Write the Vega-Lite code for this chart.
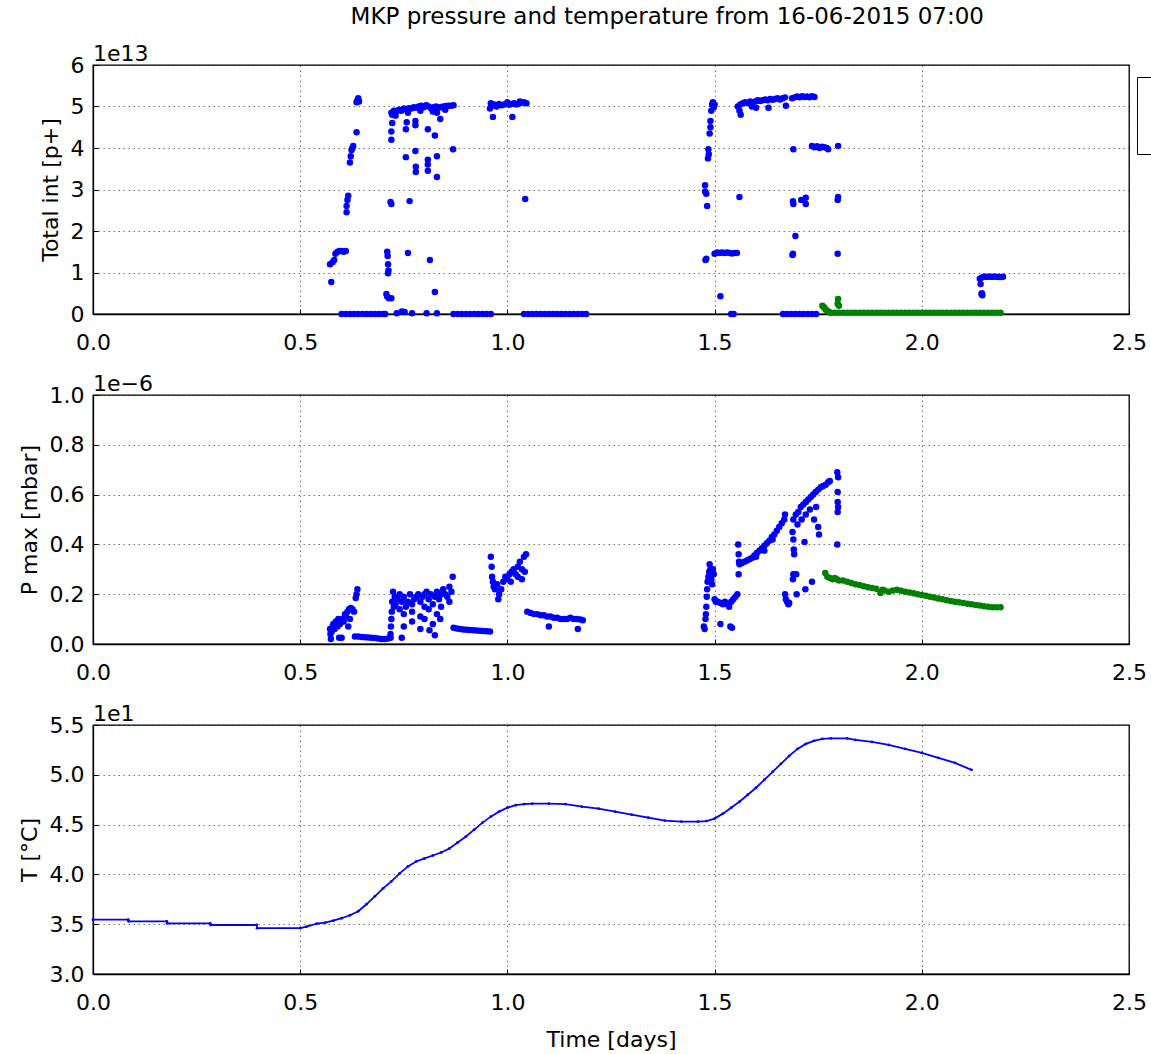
{
"$schema": "https://vega.github.io/schema/vega-lite/v6.json",
"padding": {"left": 17, "top": 6, "right": -10, "bottom": 0},
"title": {"text": "MKP pressure and temperature from 16-06-2015 07:00", "anchor": "middle", "fontSize": 23, "fontWeight": "normal", "font": "DejaVu Sans", "color": "#000", "offset": 13, "dx": 41},
"config": {
  "font": "DejaVu Sans",
  "view": {"stroke": "#000", "strokeWidth": 1.3},
  "axis": {"labelFont": "DejaVu Sans", "labelFontSize": 22, "labelColor": "#000", "labelFlush": false, "titleFont": "DejaVu Sans", "titleFontSize": 22, "titleFontWeight": "normal", "titleColor": "#000", "domainColor": "#000", "domainWidth": 1.3, "tickColor": "#000", "tickSize": -5, "gridColor": "#000", "gridOpacity": 0.55, "gridDash": [1.5, 3.5], "gridWidth": 1},
  "axisX": {"labelPadding": 23, "titlePadding": 16},
  "axisY": {"labelPadding": 14, "titlePadding": 8},
  "title": {"font": "DejaVu Sans", "fontWeight": "normal", "fontSize": 22, "color": "#000"}
},
"datasets": {
"tot": [
{"t":0.575,"v":0.77e13,"s":"s1"},{"t":0.572,"v":1.2e13,"s":"s1"},{"t":0.578,"v":1.25e13,"s":"s1"},{"t":0.582,"v":1.3e13,"s":"s1"},{"t":0.585,"v":1.45e13,"s":"s1"},{"t":0.59,"v":1.5e13,"s":"s1"},{"t":0.595,"v":1.52e13,"s":"s1"},{"t":0.6,"v":1.52e13,"s":"s1"},{"t":0.605,"v":1.5e13,"s":"s1"},{"t":0.61,"v":1.52e13,"s":"s1"},{"t":0.612,"v":2.45e13,"s":"s1"},{"t":0.612,"v":2.6e13,"s":"s1"},{"t":0.614,"v":2.75e13,"s":"s1"},{"t":0.616,"v":2.85e13,"s":"s1"},{"t":0.62,"v":3.65e13,"s":"s1"},{"t":0.622,"v":3.8e13,"s":"s1"},{"t":0.624,"v":3.95e13,"s":"s1"},{"t":0.626,"v":4.0e13,"s":"s1"},{"t":0.628,"v":4.05e13,"s":"s1"},{"t":0.636,"v":4.38e13,"s":"s1"},{"t":0.636,"v":5.1e13,"s":"s1"},{"t":0.638,"v":5.15e13,"s":"s1"},{"t":0.64,"v":5.2e13,"s":"s1"},{"t":0.642,"v":5.12e13,"s":"s1"},
{"t":0.6,"v":0,"s":"s1"},{"t":0.61,"v":0,"s":"s1"},{"t":0.62,"v":0,"s":"s1"},{"t":0.63,"v":0,"s":"s1"},{"t":0.64,"v":0,"s":"s1"},{"t":0.65,"v":0,"s":"s1"},{"t":0.66,"v":0,"s":"s1"},{"t":0.67,"v":0,"s":"s1"},{"t":0.68,"v":0,"s":"s1"},{"t":0.69,"v":0,"s":"s1"},{"t":0.7,"v":0,"s":"s1"},{"t":0.705,"v":0,"s":"s1"},
{"t":0.71,"v":1.5e13,"s":"s1"},{"t":0.711,"v":1.4e13,"s":"s1"},{"t":0.712,"v":1.2e13,"s":"s1"},{"t":0.713,"v":1.05e13,"s":"s1"},{"t":0.712,"v":0.98e13,"s":"s1"},{"t":0.708,"v":0.48e13,"s":"s1"},{"t":0.71,"v":0.42e13,"s":"s1"},{"t":0.714,"v":0.38e13,"s":"s1"},{"t":0.72,"v":0.38e13,"s":"s1"},{"t":0.718,"v":2.7e13,"s":"s1"},{"t":0.72,"v":2.65e13,"s":"s1"},{"t":0.72,"v":4.2e13,"s":"s1"},{"t":0.72,"v":4.4e13,"s":"s1"},{"t":0.722,"v":4.6e13,"s":"s1"},{"t":0.722,"v":4.8e13,"s":"s1"},{"t":0.725,"v":4.85e13,"s":"s1"},
{"t":0.72,"v":4.85e13,"s":"s1"},{"t":0.726,"v":4.9e13,"s":"s1"},{"t":0.732,"v":4.88e13,"s":"s1"},{"t":0.738,"v":4.92e13,"s":"s1"},{"t":0.744,"v":4.9e13,"s":"s1"},{"t":0.75,"v":4.95e13,"s":"s1"},{"t":0.756,"v":4.93e13,"s":"s1"},{"t":0.762,"v":4.96e13,"s":"s1"},{"t":0.768,"v":4.95e13,"s":"s1"},{"t":0.774,"v":4.98e13,"s":"s1"},{"t":0.78,"v":4.97e13,"s":"s1"},{"t":0.786,"v":5.0e13,"s":"s1"},{"t":0.792,"v":5.02e13,"s":"s1"},{"t":0.798,"v":4.98e13,"s":"s1"},{"t":0.804,"v":5.03e13,"s":"s1"},{"t":0.81,"v":5.0e13,"s":"s1"},{"t":0.816,"v":4.95e13,"s":"s1"},{"t":0.822,"v":4.98e13,"s":"s1"},{"t":0.828,"v":5.0e13,"s":"s1"},{"t":0.834,"v":4.97e13,"s":"s1"},{"t":0.84,"v":4.99e13,"s":"s1"},{"t":0.846,"v":5.0e13,"s":"s1"},{"t":0.852,"v":5.01e13,"s":"s1"},{"t":0.858,"v":5.02e13,"s":"s1"},{"t":0.864,"v":5.02e13,"s":"s1"},{"t":0.87,"v":5.03e13,"s":"s1"},
{"t":0.73,"v":4.78e13,"s":"s1"},{"t":0.76,"v":4.85e13,"s":"s1"},{"t":0.79,"v":4.9e13,"s":"s1"},{"t":0.82,"v":4.88e13,"s":"s1"},{"t":0.83,"v":4.85e13,"s":"s1"},{"t":0.85,"v":4.92e13,"s":"s1"},
{"t":0.755,"v":4.45e13,"s":"s1"},{"t":0.757,"v":4.62e13,"s":"s1"},{"t":0.778,"v":4.55e13,"s":"s1"},{"t":0.778,"v":4.65e13,"s":"s1"},{"t":0.778,"v":3.93e13,"s":"s1"},{"t":0.755,"v":3.78e13,"s":"s1"},{"t":0.779,"v":3.42e13,"s":"s1"},{"t":0.779,"v":3.55e13,"s":"s1"},{"t":0.808,"v":3.45e13,"s":"s1"},{"t":0.808,"v":3.6e13,"s":"s1"},{"t":0.808,"v":3.72e13,"s":"s1"},{"t":0.808,"v":4.45e13,"s":"s1"},{"t":0.825,"v":4.3e13,"s":"s1"},{"t":0.83,"v":3.8e13,"s":"s1"},{"t":0.83,"v":3.3e13,"s":"s1"},{"t":0.869,"v":3.97e13,"s":"s1"},{"t":0.764,"v":2.72e13,"s":"s1"},{"t":0.76,"v":1.47e13,"s":"s1"},{"t":0.813,"v":1.3e13,"s":"s1"},{"t":0.825,"v":0.53e13,"s":"s1"},{"t":0.838,"v":4.7e13,"s":"s1"},
{"t":0.733,"v":0.02e13,"s":"s1"},{"t":0.745,"v":0.06e13,"s":"s1"},{"t":0.752,"v":0.05e13,"s":"s1"},{"t":0.77,"v":0.02e13,"s":"s1"},{"t":0.805,"v":0.02e13,"s":"s1"},{"t":0.83,"v":0.02e13,"s":"s1"},
{"t":0.87,"v":0,"s":"s1"},{"t":0.88,"v":0,"s":"s1"},{"t":0.89,"v":0,"s":"s1"},{"t":0.9,"v":0,"s":"s1"},{"t":0.91,"v":0,"s":"s1"},{"t":0.92,"v":0,"s":"s1"},{"t":0.93,"v":0,"s":"s1"},{"t":0.94,"v":0,"s":"s1"},{"t":0.95,"v":0,"s":"s1"},{"t":0.96,"v":0,"s":"s1"},
{"t":0.958,"v":4.95e13,"s":"s1"},{"t":0.962,"v":5.02e13,"s":"s1"},{"t":0.968,"v":5.05e13,"s":"s1"},{"t":0.974,"v":5.0e13,"s":"s1"},{"t":0.98,"v":5.06e13,"s":"s1"},{"t":0.986,"v":5.03e13,"s":"s1"},{"t":0.992,"v":5.05e13,"s":"s1"},{"t":0.998,"v":5.07e13,"s":"s1"},{"t":1.004,"v":5.04e13,"s":"s1"},{"t":1.01,"v":5.06e13,"s":"s1"},{"t":1.016,"v":5.08e13,"s":"s1"},{"t":1.022,"v":5.05e13,"s":"s1"},{"t":1.028,"v":5.07e13,"s":"s1"},{"t":1.034,"v":5.09e13,"s":"s1"},{"t":1.04,"v":5.1e13,"s":"s1"},{"t":1.046,"v":5.08e13,"s":"s1"},{"t":0.96,"v":5.08e13,"s":"s1"},{"t":1.0,"v":5.1e13,"s":"s1"},{"t":1.03,"v":5.12e13,"s":"s1"},{"t":0.965,"v":4.75e13,"s":"s1"},{"t":1.012,"v":4.75e13,"s":"s1"},{"t":1.043,"v":2.77e13,"s":"s1"},
{"t":1.04,"v":0,"s":"s1"},{"t":1.05,"v":0,"s":"s1"},{"t":1.06,"v":0,"s":"s1"},{"t":1.07,"v":0,"s":"s1"},{"t":1.08,"v":0,"s":"s1"},{"t":1.09,"v":0,"s":"s1"},{"t":1.1,"v":0,"s":"s1"},{"t":1.11,"v":0,"s":"s1"},{"t":1.12,"v":0,"s":"s1"},{"t":1.13,"v":0,"s":"s1"},{"t":1.14,"v":0,"s":"s1"},{"t":1.15,"v":0,"s":"s1"},{"t":1.16,"v":0,"s":"s1"},{"t":1.17,"v":0,"s":"s1"},{"t":1.18,"v":0,"s":"s1"},{"t":1.19,"v":0,"s":"s1"},
{"t":1.477,"v":3.1e13,"s":"s1"},{"t":1.477,"v":2.95e13,"s":"s1"},{"t":1.48,"v":2.9e13,"s":"s1"},{"t":1.482,"v":2.6e13,"s":"s1"},{"t":1.48,"v":1.33e13,"s":"s1"},{"t":1.478,"v":1.3e13,"s":"s1"},{"t":1.484,"v":3.75e13,"s":"s1"},{"t":1.485,"v":3.97e13,"s":"s1"},{"t":1.486,"v":3.85e13,"s":"s1"},{"t":1.488,"v":4.35e13,"s":"s1"},{"t":1.49,"v":4.5e13,"s":"s1"},{"t":1.49,"v":4.65e13,"s":"s1"},{"t":1.492,"v":4.9e13,"s":"s1"},{"t":1.494,"v":5.05e13,"s":"s1"},{"t":1.496,"v":5.1e13,"s":"s1"},{"t":1.5,"v":5.05e13,"s":"s1"},{"t":1.498,"v":4.98e13,"s":"s1"},
{"t":1.5,"v":1.45e13,"s":"s1"},{"t":1.506,"v":1.48e13,"s":"s1"},{"t":1.512,"v":1.47e13,"s":"s1"},{"t":1.518,"v":1.48e13,"s":"s1"},{"t":1.524,"v":1.47e13,"s":"s1"},{"t":1.53,"v":1.48e13,"s":"s1"},{"t":1.536,"v":1.47e13,"s":"s1"},{"t":1.542,"v":1.46e13,"s":"s1"},{"t":1.548,"v":1.47e13,"s":"s1"},{"t":1.554,"v":1.47e13,"s":"s1"},{"t":1.514,"v":0.43e13,"s":"s1"},{"t":1.54,"v":0,"s":"s1"},{"t":1.546,"v":0,"s":"s1"},
{"t":1.556,"v":5.0e13,"s":"s1"},{"t":1.562,"v":5.05e13,"s":"s1"},{"t":1.568,"v":5.08e13,"s":"s1"},{"t":1.574,"v":5.1e13,"s":"s1"},{"t":1.58,"v":5.08e13,"s":"s1"},{"t":1.586,"v":5.12e13,"s":"s1"},{"t":1.592,"v":5.1e13,"s":"s1"},{"t":1.598,"v":5.12e13,"s":"s1"},{"t":1.604,"v":5.15e13,"s":"s1"},{"t":1.61,"v":5.13e13,"s":"s1"},{"t":1.616,"v":5.15e13,"s":"s1"},{"t":1.622,"v":5.17e13,"s":"s1"},{"t":1.628,"v":5.15e13,"s":"s1"},{"t":1.634,"v":5.18e13,"s":"s1"},{"t":1.64,"v":5.16e13,"s":"s1"},{"t":1.646,"v":5.18e13,"s":"s1"},{"t":1.652,"v":5.2e13,"s":"s1"},{"t":1.658,"v":5.17e13,"s":"s1"},{"t":1.664,"v":5.2e13,"s":"s1"},{"t":1.67,"v":5.22e13,"s":"s1"},{"t":1.56,"v":4.9e13,"s":"s1"},{"t":1.563,"v":4.8e13,"s":"s1"},{"t":1.59,"v":5.0e13,"s":"s1"},{"t":1.6,"v":4.97e13,"s":"s1"},{"t":1.63,"v":4.97e13,"s":"s1"},{"t":1.672,"v":5.02e13,"s":"s1"},{"t":1.56,"v":2.82e13,"s":"s1"},
{"t":1.687,"v":5.2e13,"s":"s1"},{"t":1.693,"v":5.22e13,"s":"s1"},{"t":1.699,"v":5.24e13,"s":"s1"},{"t":1.705,"v":5.22e13,"s":"s1"},{"t":1.711,"v":5.25e13,"s":"s1"},{"t":1.717,"v":5.23e13,"s":"s1"},{"t":1.723,"v":5.24e13,"s":"s1"},{"t":1.729,"v":5.22e13,"s":"s1"},{"t":1.735,"v":5.25e13,"s":"s1"},{"t":1.741,"v":5.23e13,"s":"s1"},
{"t":1.69,"v":3.97e13,"s":"s1"},{"t":1.689,"v":2.72e13,"s":"s1"},{"t":1.69,"v":2.65e13,"s":"s1"},{"t":1.689,"v":1.45e13,"s":"s1"},{"t":1.688,"v":1.42e13,"s":"s1"},{"t":1.695,"v":1.88e13,"s":"s1"},{"t":1.709,"v":2.75e13,"s":"s1"},{"t":1.72,"v":2.8e13,"s":"s1"},{"t":1.72,"v":2.65e13,"s":"s1"},
{"t":1.735,"v":4.05e13,"s":"s1"},{"t":1.741,"v":4.02e13,"s":"s1"},{"t":1.747,"v":4.04e13,"s":"s1"},{"t":1.753,"v":4.0e13,"s":"s1"},{"t":1.759,"v":4.03e13,"s":"s1"},{"t":1.765,"v":4.02e13,"s":"s1"},{"t":1.771,"v":4.0e13,"s":"s1"},{"t":1.774,"v":3.97e13,"s":"s1"},
{"t":1.798,"v":4.05e13,"s":"s1"},{"t":1.798,"v":2.82e13,"s":"s1"},{"t":1.797,"v":2.75e13,"s":"s1"},{"t":1.797,"v":1.45e13,"s":"s1"},
{"t":1.665,"v":0,"s":"s1"},{"t":1.675,"v":0,"s":"s1"},{"t":1.685,"v":0,"s":"s1"},{"t":1.695,"v":0,"s":"s1"},{"t":1.705,"v":0,"s":"s1"},{"t":1.715,"v":0,"s":"s1"},{"t":1.725,"v":0,"s":"s1"},{"t":1.735,"v":0,"s":"s1"},{"t":1.745,"v":0,"s":"s1"},
{"t":2.14,"v":0.85e13,"s":"s1"},{"t":2.145,"v":0.88e13,"s":"s1"},{"t":2.15,"v":0.9e13,"s":"s1"},{"t":2.156,"v":0.9e13,"s":"s1"},{"t":2.162,"v":0.9e13,"s":"s1"},{"t":2.168,"v":0.9e13,"s":"s1"},{"t":2.174,"v":0.9e13,"s":"s1"},{"t":2.18,"v":0.9e13,"s":"s1"},{"t":2.186,"v":0.89e13,"s":"s1"},{"t":2.192,"v":0.89e13,"s":"s1"},{"t":2.196,"v":0.9e13,"s":"s1"},{"t":2.142,"v":0.72e13,"s":"s1"},{"t":2.144,"v":0.48e13,"s":"s1"},{"t":2.146,"v":0.45e13,"s":"s1"},{"t":2.145,"v":0.5e13,"s":"s1"},
{"t":1.76,"v":0.2e13,"s":"s2"},{"t":1.763,"v":0.17e13,"s":"s2"},{"t":1.765,"v":0.15e13,"s":"s2"},{"t":1.768,"v":0.1e13,"s":"s2"},{"t":1.772,"v":0.08e13,"s":"s2"},{"t":1.776,"v":0.05e13,"s":"s2"},{"t":1.798,"v":0.36e13,"s":"s2"},{"t":1.8,"v":0.2e13,"s":"s2"},{"t":1.797,"v":0.25e13,"s":"s2"},
{"t":1.78,"v":0.03e13,"s":"s2"},{"t":1.79,"v":0.03e13,"s":"s2"},{"t":1.8,"v":0.03e13,"s":"s2"},{"t":1.81,"v":0.03e13,"s":"s2"},{"t":1.82,"v":0.03e13,"s":"s2"},{"t":1.83,"v":0.03e13,"s":"s2"},{"t":1.84,"v":0.03e13,"s":"s2"},{"t":1.85,"v":0.03e13,"s":"s2"},{"t":1.86,"v":0.03e13,"s":"s2"},{"t":1.87,"v":0.03e13,"s":"s2"},{"t":1.88,"v":0.03e13,"s":"s2"},{"t":1.89,"v":0.03e13,"s":"s2"},{"t":1.9,"v":0.03e13,"s":"s2"},{"t":1.91,"v":0.03e13,"s":"s2"},{"t":1.92,"v":0.03e13,"s":"s2"},{"t":1.93,"v":0.03e13,"s":"s2"},{"t":1.94,"v":0.03e13,"s":"s2"},{"t":1.95,"v":0.03e13,"s":"s2"},{"t":1.96,"v":0.03e13,"s":"s2"},{"t":1.97,"v":0.03e13,"s":"s2"},{"t":1.98,"v":0.03e13,"s":"s2"},{"t":1.99,"v":0.03e13,"s":"s2"},{"t":2.0,"v":0.03e13,"s":"s2"},{"t":2.01,"v":0.03e13,"s":"s2"},{"t":2.02,"v":0.03e13,"s":"s2"},{"t":2.03,"v":0.03e13,"s":"s2"},{"t":2.04,"v":0.03e13,"s":"s2"},{"t":2.05,"v":0.03e13,"s":"s2"},{"t":2.06,"v":0.03e13,"s":"s2"},{"t":2.07,"v":0.03e13,"s":"s2"},{"t":2.08,"v":0.03e13,"s":"s2"},{"t":2.09,"v":0.03e13,"s":"s2"},{"t":2.1,"v":0.03e13,"s":"s2"},{"t":2.11,"v":0.03e13,"s":"s2"},{"t":2.12,"v":0.03e13,"s":"s2"},{"t":2.13,"v":0.03e13,"s":"s2"},{"t":2.14,"v":0.03e13,"s":"s2"},{"t":2.15,"v":0.03e13,"s":"s2"},{"t":2.16,"v":0.03e13,"s":"s2"},{"t":2.17,"v":0.03e13,"s":"s2"},{"t":2.18,"v":0.03e13,"s":"s2"},{"t":2.19,"v":0.03e13,"s":"s2"}
],
"pmax": [
{"t":0.572,"p":0.06e-6,"s":"s1"},{"t":0.573,"p":0.04e-6,"s":"s1"},{"t":0.574,"p":0.02e-6,"s":"s1"},{"t":0.576,"p":0.05e-6,"s":"s1"},{"t":0.578,"p":0.07e-6,"s":"s1"},{"t":0.58,"p":0.08e-6,"s":"s1"},{"t":0.583,"p":0.06e-6,"s":"s1"},{"t":0.586,"p":0.09e-6,"s":"s1"},{"t":0.59,"p":0.07e-6,"s":"s1"},{"t":0.592,"p":0.1e-6,"s":"s1"},{"t":0.596,"p":0.08e-6,"s":"s1"},{"t":0.6,"p":0.025e-6,"s":"s1"},{"t":0.602,"p":0.1e-6,"s":"s1"},{"t":0.605,"p":0.09e-6,"s":"s1"},{"t":0.608,"p":0.12e-6,"s":"s1"},{"t":0.61,"p":0.11e-6,"s":"s1"},{"t":0.614,"p":0.13e-6,"s":"s1"},{"t":0.618,"p":0.14e-6,"s":"s1"},{"t":0.622,"p":0.145e-6,"s":"s1"},{"t":0.626,"p":0.14e-6,"s":"s1"},{"t":0.63,"p":0.13e-6,"s":"s1"},{"t":0.634,"p":0.185e-6,"s":"s1"},{"t":0.636,"p":0.2e-6,"s":"s1"},{"t":0.638,"p":0.22e-6,"s":"s1"},{"t":0.594,"p":0.025e-6,"s":"s1"},{"t":0.616,"p":0.07e-6,"s":"s1"},{"t":0.62,"p":0.1e-6,"s":"s1"},
{"t":0.632,"p":0.03e-6,"s":"s1"},{"t":0.64,"p":0.03e-6,"s":"s1"},{"t":0.648,"p":0.028e-6,"s":"s1"},{"t":0.656,"p":0.027e-6,"s":"s1"},{"t":0.664,"p":0.026e-6,"s":"s1"},{"t":0.672,"p":0.025e-6,"s":"s1"},{"t":0.68,"p":0.024e-6,"s":"s1"},{"t":0.688,"p":0.022e-6,"s":"s1"},{"t":0.696,"p":0.02e-6,"s":"s1"},{"t":0.704,"p":0.02e-6,"s":"s1"},{"t":0.712,"p":0.022e-6,"s":"s1"},{"t":0.718,"p":0.025e-6,"s":"s1"},
{"t":0.718,"p":0.04e-6,"s":"s1"},{"t":0.719,"p":0.07e-6,"s":"s1"},{"t":0.72,"p":0.1e-6,"s":"s1"},{"t":0.721,"p":0.13e-6,"s":"s1"},{"t":0.722,"p":0.17e-6,"s":"s1"},{"t":0.724,"p":0.21e-6,"s":"s1"},{"t":0.726,"p":0.15e-6,"s":"s1"},{"t":0.728,"p":0.19e-6,"s":"s1"},
{"t":0.73,"p":0.16e-6,"s":"s1"},{"t":0.735,"p":0.18e-6,"s":"s1"},{"t":0.74,"p":0.14e-6,"s":"s1"},{"t":0.745,"p":0.17e-6,"s":"s1"},{"t":0.75,"p":0.19e-6,"s":"s1"},{"t":0.755,"p":0.15e-6,"s":"s1"},{"t":0.76,"p":0.17e-6,"s":"s1"},{"t":0.765,"p":0.2e-6,"s":"s1"},{"t":0.77,"p":0.16e-6,"s":"s1"},{"t":0.775,"p":0.18e-6,"s":"s1"},{"t":0.78,"p":0.19e-6,"s":"s1"},{"t":0.785,"p":0.2e-6,"s":"s1"},{"t":0.79,"p":0.17e-6,"s":"s1"},{"t":0.795,"p":0.19e-6,"s":"s1"},{"t":0.8,"p":0.2e-6,"s":"s1"},{"t":0.805,"p":0.21e-6,"s":"s1"},{"t":0.81,"p":0.18e-6,"s":"s1"},{"t":0.815,"p":0.2e-6,"s":"s1"},{"t":0.82,"p":0.16e-6,"s":"s1"},{"t":0.825,"p":0.19e-6,"s":"s1"},{"t":0.83,"p":0.21e-6,"s":"s1"},{"t":0.835,"p":0.18e-6,"s":"s1"},{"t":0.84,"p":0.2e-6,"s":"s1"},{"t":0.845,"p":0.22e-6,"s":"s1"},{"t":0.85,"p":0.2e-6,"s":"s1"},{"t":0.855,"p":0.19e-6,"s":"s1"},{"t":0.86,"p":0.23e-6,"s":"s1"},{"t":0.865,"p":0.21e-6,"s":"s1"},{"t":0.868,"p":0.27e-6,"s":"s1"},{"t":0.75,"p":0.12e-6,"s":"s1"},{"t":0.77,"p":0.13e-6,"s":"s1"},{"t":0.79,"p":0.11e-6,"s":"s1"},{"t":0.81,"p":0.14e-6,"s":"s1"},{"t":0.83,"p":0.12e-6,"s":"s1"},{"t":0.84,"p":0.15e-6,"s":"s1"},{"t":0.86,"p":0.17e-6,"s":"s1"},{"t":0.74,"p":0.2e-6,"s":"s1"},{"t":0.8,"p":0.15e-6,"s":"s1"},
{"t":0.745,"p":0.025e-6,"s":"s1"},{"t":0.75,"p":0.07e-6,"s":"s1"},{"t":0.77,"p":0.09e-6,"s":"s1"},{"t":0.79,"p":0.06e-6,"s":"s1"},{"t":0.8,"p":0.1e-6,"s":"s1"},{"t":0.812,"p":0.055e-6,"s":"s1"},{"t":0.82,"p":0.08e-6,"s":"s1"},{"t":0.825,"p":0.035e-6,"s":"s1"},{"t":0.838,"p":0.1e-6,"s":"s1"},
{"t":0.87,"p":0.065e-6,"s":"s1"},{"t":0.878,"p":0.062e-6,"s":"s1"},{"t":0.886,"p":0.06e-6,"s":"s1"},{"t":0.894,"p":0.058e-6,"s":"s1"},{"t":0.902,"p":0.057e-6,"s":"s1"},{"t":0.91,"p":0.056e-6,"s":"s1"},{"t":0.918,"p":0.055e-6,"s":"s1"},{"t":0.926,"p":0.054e-6,"s":"s1"},{"t":0.934,"p":0.053e-6,"s":"s1"},{"t":0.942,"p":0.052e-6,"s":"s1"},{"t":0.95,"p":0.051e-6,"s":"s1"},{"t":0.958,"p":0.05e-6,"s":"s1"},
{"t":0.96,"p":0.35e-6,"s":"s1"},{"t":0.962,"p":0.31e-6,"s":"s1"},{"t":0.963,"p":0.27e-6,"s":"s1"},{"t":0.965,"p":0.25e-6,"s":"s1"},{"t":0.967,"p":0.23e-6,"s":"s1"},{"t":0.97,"p":0.22e-6,"s":"s1"},{"t":0.975,"p":0.24e-6,"s":"s1"},{"t":0.978,"p":0.18e-6,"s":"s1"},{"t":0.98,"p":0.2e-6,"s":"s1"},{"t":0.985,"p":0.22e-6,"s":"s1"},{"t":0.99,"p":0.25e-6,"s":"s1"},{"t":0.995,"p":0.27e-6,"s":"s1"},{"t":1.0,"p":0.26e-6,"s":"s1"},{"t":1.005,"p":0.28e-6,"s":"s1"},{"t":1.008,"p":0.25e-6,"s":"s1"},{"t":1.01,"p":0.29e-6,"s":"s1"},{"t":1.015,"p":0.3e-6,"s":"s1"},{"t":1.02,"p":0.28e-6,"s":"s1"},{"t":1.025,"p":0.31e-6,"s":"s1"},{"t":1.03,"p":0.33e-6,"s":"s1"},{"t":1.035,"p":0.3e-6,"s":"s1"},{"t":1.04,"p":0.35e-6,"s":"s1"},{"t":1.045,"p":0.36e-6,"s":"s1"},{"t":1.042,"p":0.29e-6,"s":"s1"},{"t":1.025,"p":0.27e-6,"s":"s1"},{"t":1.035,"p":0.26e-6,"s":"s1"},
{"t":1.048,"p":0.13e-6,"s":"s1"},{"t":1.056,"p":0.125e-6,"s":"s1"},{"t":1.064,"p":0.12e-6,"s":"s1"},{"t":1.072,"p":0.12e-6,"s":"s1"},{"t":1.08,"p":0.115e-6,"s":"s1"},{"t":1.088,"p":0.115e-6,"s":"s1"},{"t":1.096,"p":0.11e-6,"s":"s1"},{"t":1.104,"p":0.11e-6,"s":"s1"},{"t":1.112,"p":0.105e-6,"s":"s1"},{"t":1.12,"p":0.105e-6,"s":"s1"},{"t":1.128,"p":0.1e-6,"s":"s1"},{"t":1.136,"p":0.1e-6,"s":"s1"},{"t":1.144,"p":0.1e-6,"s":"s1"},{"t":1.152,"p":0.105e-6,"s":"s1"},{"t":1.16,"p":0.1e-6,"s":"s1"},{"t":1.168,"p":0.1e-6,"s":"s1"},{"t":1.176,"p":0.098e-6,"s":"s1"},{"t":1.182,"p":0.095e-6,"s":"s1"},{"t":1.1,"p":0.07e-6,"s":"s1"},{"t":1.17,"p":0.06e-6,"s":"s1"},
{"t":1.474,"p":0.07e-6,"s":"s1"},{"t":1.476,"p":0.06e-6,"s":"s1"},{"t":1.478,"p":0.1e-6,"s":"s1"},{"t":1.479,"p":0.12e-6,"s":"s1"},{"t":1.48,"p":0.15e-6,"s":"s1"},{"t":1.481,"p":0.19e-6,"s":"s1"},{"t":1.482,"p":0.22e-6,"s":"s1"},{"t":1.483,"p":0.25e-6,"s":"s1"},{"t":1.485,"p":0.27e-6,"s":"s1"},{"t":1.487,"p":0.29e-6,"s":"s1"},{"t":1.488,"p":0.32e-6,"s":"s1"},{"t":1.49,"p":0.3e-6,"s":"s1"},{"t":1.492,"p":0.26e-6,"s":"s1"},{"t":1.494,"p":0.24e-6,"s":"s1"},{"t":1.496,"p":0.3e-6,"s":"s1"},{"t":1.498,"p":0.28e-6,"s":"s1"},{"t":1.5,"p":0.18e-6,"s":"s1"},{"t":1.503,"p":0.17e-6,"s":"s1"},{"t":1.508,"p":0.17e-6,"s":"s1"},{"t":1.514,"p":0.165e-6,"s":"s1"},{"t":1.52,"p":0.16e-6,"s":"s1"},{"t":1.525,"p":0.17e-6,"s":"s1"},{"t":1.53,"p":0.16e-6,"s":"s1"},{"t":1.535,"p":0.15e-6,"s":"s1"},{"t":1.54,"p":0.17e-6,"s":"s1"},{"t":1.545,"p":0.18e-6,"s":"s1"},{"t":1.55,"p":0.19e-6,"s":"s1"},{"t":1.555,"p":0.2e-6,"s":"s1"},{"t":1.514,"p":0.08e-6,"s":"s1"},{"t":1.538,"p":0.07e-6,"s":"s1"},{"t":1.542,"p":0.065e-6,"s":"s1"},
{"t":1.557,"p":0.4e-6,"s":"s1"},{"t":1.558,"p":0.36e-6,"s":"s1"},{"t":1.559,"p":0.33e-6,"s":"s1"},{"t":1.558,"p":0.28e-6,"s":"s1"},{"t":1.56,"p":0.32e-6,"s":"s1"},{"t":1.566,"p":0.325e-6,"s":"s1"},{"t":1.572,"p":0.33e-6,"s":"s1"},{"t":1.578,"p":0.335e-6,"s":"s1"},{"t":1.584,"p":0.34e-6,"s":"s1"},{"t":1.59,"p":0.345e-6,"s":"s1"},{"t":1.596,"p":0.355e-6,"s":"s1"},{"t":1.602,"p":0.365e-6,"s":"s1"},{"t":1.608,"p":0.375e-6,"s":"s1"},{"t":1.614,"p":0.385e-6,"s":"s1"},{"t":1.62,"p":0.395e-6,"s":"s1"},{"t":1.626,"p":0.405e-6,"s":"s1"},{"t":1.632,"p":0.415e-6,"s":"s1"},{"t":1.638,"p":0.43e-6,"s":"s1"},{"t":1.644,"p":0.44e-6,"s":"s1"},{"t":1.65,"p":0.455e-6,"s":"s1"},{"t":1.656,"p":0.47e-6,"s":"s1"},{"t":1.662,"p":0.485e-6,"s":"s1"},{"t":1.668,"p":0.5e-6,"s":"s1"},{"t":1.67,"p":0.52e-6,"s":"s1"},{"t":1.6,"p":0.35e-6,"s":"s1"},{"t":1.62,"p":0.375e-6,"s":"s1"},{"t":1.64,"p":0.42e-6,"s":"s1"},
{"t":1.67,"p":0.2e-6,"s":"s1"},{"t":1.672,"p":0.18e-6,"s":"s1"},{"t":1.675,"p":0.17e-6,"s":"s1"},{"t":1.678,"p":0.16e-6,"s":"s1"},{"t":1.68,"p":0.165e-6,"s":"s1"},
{"t":1.688,"p":0.45e-6,"s":"s1"},{"t":1.69,"p":0.42e-6,"s":"s1"},{"t":1.691,"p":0.38e-6,"s":"s1"},{"t":1.692,"p":0.36e-6,"s":"s1"},{"t":1.69,"p":0.28e-6,"s":"s1"},{"t":1.689,"p":0.26e-6,"s":"s1"},
{"t":1.69,"p":0.5e-6,"s":"s1"},{"t":1.696,"p":0.52e-6,"s":"s1"},{"t":1.702,"p":0.53e-6,"s":"s1"},{"t":1.708,"p":0.55e-6,"s":"s1"},{"t":1.714,"p":0.56e-6,"s":"s1"},{"t":1.72,"p":0.57e-6,"s":"s1"},{"t":1.726,"p":0.58e-6,"s":"s1"},{"t":1.732,"p":0.59e-6,"s":"s1"},{"t":1.738,"p":0.6e-6,"s":"s1"},{"t":1.744,"p":0.61e-6,"s":"s1"},{"t":1.75,"p":0.62e-6,"s":"s1"},{"t":1.756,"p":0.63e-6,"s":"s1"},{"t":1.762,"p":0.635e-6,"s":"s1"},{"t":1.768,"p":0.64e-6,"s":"s1"},{"t":1.774,"p":0.65e-6,"s":"s1"},{"t":1.778,"p":0.655e-6,"s":"s1"},{"t":1.7,"p":0.48e-6,"s":"s1"},{"t":1.71,"p":0.5e-6,"s":"s1"},{"t":1.72,"p":0.52e-6,"s":"s1"},{"t":1.73,"p":0.54e-6,"s":"s1"},{"t":1.74,"p":0.5e-6,"s":"s1"},{"t":1.75,"p":0.47e-6,"s":"s1"},{"t":1.752,"p":0.44e-6,"s":"s1"},{"t":1.745,"p":0.55e-6,"s":"s1"},
{"t":1.697,"p":0.28e-6,"s":"s1"},{"t":1.698,"p":0.2e-6,"s":"s1"},{"t":1.717,"p":0.41e-6,"s":"s1"},{"t":1.719,"p":0.22e-6,"s":"s1"},{"t":1.735,"p":0.25e-6,"s":"s1"},
{"t":1.796,"p":0.69e-6,"s":"s1"},{"t":1.798,"p":0.67e-6,"s":"s1"},{"t":1.797,"p":0.61e-6,"s":"s1"},{"t":1.797,"p":0.57e-6,"s":"s1"},{"t":1.798,"p":0.55e-6,"s":"s1"},{"t":1.797,"p":0.53e-6,"s":"s1"},{"t":1.796,"p":0.4e-6,"s":"s1"},
{"t":1.767,"p":0.285e-6,"s":"s2"},{"t":1.772,"p":0.27e-6,"s":"s2"},{"t":1.778,"p":0.265e-6,"s":"s2"},{"t":1.785,"p":0.26e-6,"s":"s2"},{"t":1.79,"p":0.265e-6,"s":"s2"},{"t":1.795,"p":0.26e-6,"s":"s2"},{"t":1.8,"p":0.255e-6,"s":"s2"},{"t":1.81,"p":0.255e-6,"s":"s2"},{"t":1.82,"p":0.25e-6,"s":"s2"},{"t":1.83,"p":0.245e-6,"s":"s2"},{"t":1.84,"p":0.24e-6,"s":"s2"},{"t":1.85,"p":0.237e-6,"s":"s2"},{"t":1.86,"p":0.232e-6,"s":"s2"},{"t":1.87,"p":0.228e-6,"s":"s2"},{"t":1.88,"p":0.225e-6,"s":"s2"},{"t":1.89,"p":0.222e-6,"s":"s2"},{"t":1.9,"p":0.205e-6,"s":"s2"},{"t":1.905,"p":0.218e-6,"s":"s2"},{"t":1.91,"p":0.215e-6,"s":"s2"},{"t":1.92,"p":0.21e-6,"s":"s2"},{"t":1.93,"p":0.215e-6,"s":"s2"},{"t":1.94,"p":0.218e-6,"s":"s2"},{"t":1.95,"p":0.214e-6,"s":"s2"},{"t":1.96,"p":0.21e-6,"s":"s2"},{"t":1.97,"p":0.207e-6,"s":"s2"},{"t":1.98,"p":0.204e-6,"s":"s2"},{"t":1.99,"p":0.2e-6,"s":"s2"},{"t":2.0,"p":0.197e-6,"s":"s2"},{"t":2.01,"p":0.194e-6,"s":"s2"},{"t":2.02,"p":0.19e-6,"s":"s2"},{"t":2.03,"p":0.187e-6,"s":"s2"},{"t":2.04,"p":0.183e-6,"s":"s2"},{"t":2.05,"p":0.18e-6,"s":"s2"},{"t":2.06,"p":0.176e-6,"s":"s2"},{"t":2.07,"p":0.173e-6,"s":"s2"},{"t":2.08,"p":0.17e-6,"s":"s2"},{"t":2.09,"p":0.168e-6,"s":"s2"},{"t":2.1,"p":0.165e-6,"s":"s2"},{"t":2.11,"p":0.162e-6,"s":"s2"},{"t":2.12,"p":0.16e-6,"s":"s2"},{"t":2.13,"p":0.157e-6,"s":"s2"},{"t":2.14,"p":0.155e-6,"s":"s2"},{"t":2.15,"p":0.152e-6,"s":"s2"},{"t":2.16,"p":0.15e-6,"s":"s2"},{"t":2.17,"p":0.148e-6,"s":"s2"},{"t":2.18,"p":0.148e-6,"s":"s2"},{"t":2.19,"p":0.148e-6,"s":"s2"}
],
"temp": [
{"t":0.0,"T":35.45},{"t":0.085,"T":35.45},{"t":0.086,"T":35.29},{"t":0.178,"T":35.29},{"t":0.179,"T":35.09},{"t":0.283,"T":35.09},{"t":0.284,"T":34.92},{"t":0.395,"T":34.92},{"t":0.396,"T":34.6},{"t":0.5,"T":34.6},{"t":0.515,"T":34.75},{"t":0.54,"T":35.05},{"t":0.56,"T":35.15},{"t":0.58,"T":35.35},{"t":0.6,"T":35.6},{"t":0.62,"T":35.9},{"t":0.64,"T":36.3},{"t":0.66,"T":37.0},{"t":0.68,"T":37.8},{"t":0.7,"T":38.6},{"t":0.72,"T":39.3},{"t":0.74,"T":40.1},{"t":0.76,"T":40.8},{"t":0.78,"T":41.3},{"t":0.8,"T":41.6},{"t":0.82,"T":41.9},{"t":0.84,"T":42.2},{"t":0.86,"T":42.6},{"t":0.88,"T":43.2},{"t":0.9,"T":43.8},{"t":0.92,"T":44.5},{"t":0.94,"T":45.2},{"t":0.96,"T":45.8},{"t":0.98,"T":46.3},{"t":1.0,"T":46.7},{"t":1.02,"T":46.95},{"t":1.04,"T":47.05},{"t":1.06,"T":47.1},{"t":1.1,"T":47.1},{"t":1.14,"T":47.05},{"t":1.18,"T":46.8},{"t":1.22,"T":46.6},{"t":1.26,"T":46.3},{"t":1.3,"T":46.0},{"t":1.34,"T":45.7},{"t":1.38,"T":45.4},{"t":1.42,"T":45.3},{"t":1.46,"T":45.3},{"t":1.48,"T":45.35},{"t":1.5,"T":45.6},{"t":1.52,"T":46.1},{"t":1.54,"T":46.7},{"t":1.56,"T":47.3},{"t":1.58,"T":48.0},{"t":1.6,"T":48.7},{"t":1.62,"T":49.5},{"t":1.64,"T":50.3},{"t":1.66,"T":51.1},{"t":1.68,"T":51.9},{"t":1.7,"T":52.6},{"t":1.72,"T":53.1},{"t":1.74,"T":53.4},{"t":1.76,"T":53.6},{"t":1.78,"T":53.65},{"t":1.82,"T":53.65},{"t":1.84,"T":53.5},{"t":1.88,"T":53.3},{"t":1.92,"T":53.0},{"t":1.96,"T":52.6},{"t":2.0,"T":52.2},{"t":2.04,"T":51.7},{"t":2.08,"T":51.2},{"t":2.12,"T":50.5}
]
},
"spacing": 81,
"bounds": "flush",
"resolve": {"legend": {"color": "independent"}},
"vconcat": [
{
 "width": 1036, "height": 249,
 "title": {"text": "1e13", "anchor": "start", "frame": "group", "fontSize": 22, "offset": -12},
 "data": {"name": "tot"},
 "mark": {"type": "circle", "size": 42, "opacity": 1},
 "encoding": {
  "x": {"field": "t", "type": "quantitative", "scale": {"domain": [0, 2.5], "nice": false, "zero": false}, "axis": {"values": [0, 0.5, 1, 1.5, 2, 2.5], "format": ".1f", "title": null}},
  "y": {"field": "v", "type": "quantitative", "scale": {"domain": [0, 6e13], "nice": false}, "axis": {"values": [0, 1e13, 2e13, 3e13, 4e13, 5e13, 6e13], "labelExpr": "format(datum.value/1e13, 'd')", "title": "Total int [p+]"}},
  "color": {"field": "s", "type": "nominal", "scale": {"domain": ["s1", "s2"], "range": ["#0000ff", "#008000"]}, "legend": {"orient": "none", "legendX": 1044, "legendY": 12, "title": null, "labelColor": "#ffffff", "labelFontSize": 30, "labelOffset": 20, "strokeColor": "#000", "fillColor": "#fff", "padding": 6, "rowPadding": 5, "symbolSize": 40, "symbolType": "circle", "symbolOpacity": 1, "symbolFillColor": "#0000ff"}}
 }
},
{
 "width": 1036, "height": 249,
 "title": {"text": "1e\u22126", "anchor": "start", "frame": "group", "fontSize": 22, "offset": -12},
 "data": {"name": "pmax"},
 "mark": {"type": "circle", "size": 42, "opacity": 1},
 "encoding": {
  "x": {"field": "t", "type": "quantitative", "scale": {"domain": [0, 2.5], "nice": false, "zero": false}, "axis": {"values": [0, 0.5, 1, 1.5, 2, 2.5], "format": ".1f", "title": null}},
  "y": {"field": "p", "type": "quantitative", "scale": {"domain": [0, 1e-6], "nice": false}, "axis": {"values": [0, 2e-7, 4e-7, 6e-7, 8e-7, 1e-6], "labelExpr": "format(datum.value*1e6, '.1f')", "title": "P max [mbar]"}},
  "color": {"field": "s", "type": "nominal", "scale": {"domain": ["s1", "s2"], "range": ["#0000ff", "#008000"]}, "legend": null}
 }
},
{
 "width": 1036, "height": 249,
 "title": {"text": "1e1", "anchor": "start", "frame": "group", "fontSize": 22, "offset": -12},
 "data": {"name": "temp"},
 "mark": {"type": "line", "color": "#0000ff", "strokeWidth": 1.8, "point": {"filled": true, "size": 8, "color": "#0000ff"}},
 "encoding": {
  "x": {"field": "t", "type": "quantitative", "scale": {"domain": [0, 2.5], "nice": false, "zero": false}, "axis": {"values": [0, 0.5, 1, 1.5, 2, 2.5], "format": ".1f", "title": "Time [days]"}},
  "y": {"field": "T", "type": "quantitative", "scale": {"domain": [30, 55], "nice": false, "zero": false}, "axis": {"values": [30, 35, 40, 45, 50, 55], "labelExpr": "format(datum.value/10, '.1f')", "title": "T [\u00b0C]"}}
 }
}
]
}
